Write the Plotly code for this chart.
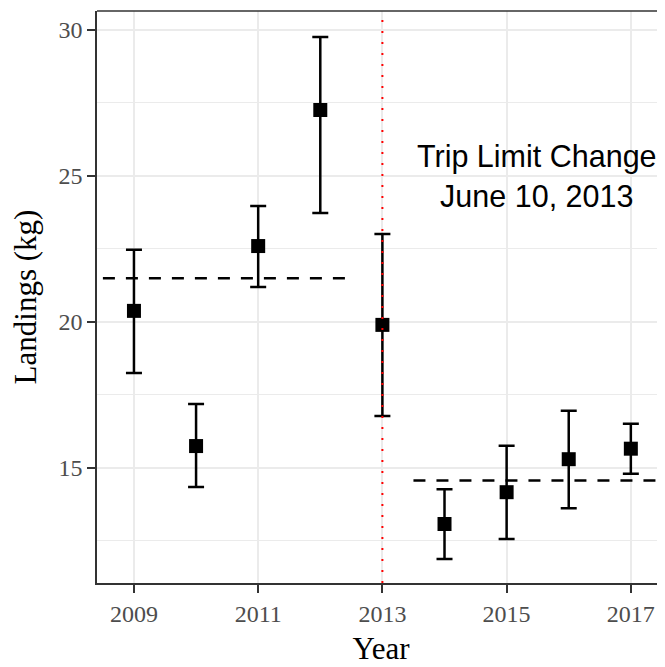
import plotly.graph_objects as go

years = [2009, 2010, 2011, 2012, 2013, 2014, 2015, 2016, 2017]
mean_kg = [20.38, 15.75, 22.60, 27.26, 19.90, 13.08, 14.17, 15.30, 15.66]
lower_kg = [18.25, 14.35, 21.20, 23.73, 16.78, 11.88, 12.57, 13.62, 14.80]
upper_kg = [22.47, 17.19, 23.97, 29.76, 23.01, 14.27, 15.76, 16.96, 16.51]

pre_x = [2008.5, 2012.5]
pre_mean = 21.5
post_x = [2013.5, 2017.6]
post_mean = 14.57
change_year = 2013

tick_years = [2009, 2011, 2013, 2015, 2017]
y_ticks = [15, 20, 25, 30]

err_plus = [u - m for u, m in zip(upper_kg, mean_kg)]
err_minus = [m - l for m, l in zip(mean_kg, lower_kg)]

fig = go.Figure()

fig.add_trace(go.Scatter(
    x=pre_x, y=[pre_mean] * len(pre_x), mode="lines",
    line=dict(color="black", width=2.5, dash="12px,11px"),
    showlegend=False, hoverinfo="skip"))
fig.add_trace(go.Scatter(
    x=post_x, y=[post_mean] * len(post_x), mode="lines",
    line=dict(color="black", width=2.5, dash="12px,11px"),
    showlegend=False, hoverinfo="skip"))

fig.add_trace(go.Scatter(
    x=years, y=mean_kg, mode="markers",
    marker=dict(symbol="square", size=14, color="black"),
    error_y=dict(type="data", symmetric=False, array=err_plus,
                 arrayminus=err_minus, color="black", thickness=2.5, width=8),
    showlegend=False))

fig.add_shape(type="line", xref="x", yref="paper", x0=change_year, x1=change_year,
              y0=0, y1=1, line=dict(color="red", width=2, dash="2px,9px"),
              layer="above")
# top border (right border is outside the visible frame)
fig.add_shape(type="line", xref="paper", yref="paper", x0=0, x1=1, y0=1, y1=1,
              line=dict(color="#333333", width=1.5))

fig.add_annotation(x=2015.49, y=25, xref="x", yref="y",
                   text="Trip Limit Change<br>June 10, 2013", showarrow=False,
                   font=dict(family="Liberation Sans", size=30.5, color="black"),
                   align="center")

serif = "Liberation Serif"
fig.update_layout(
    width=657, height=659,
    margin=dict(l=89, r=0, t=3, b=84, autoexpand=False),
    plot_bgcolor="white", paper_bgcolor="white",
    showlegend=False,
    xaxis=dict(
        range=[2008.405, 2017.55], tickvals=tick_years,
        ticktext=[str(t) for t in tick_years],
        showgrid=True, gridcolor="#ebebeb", gridwidth=2,
        zeroline=False, showline=True, linecolor="#333333", linewidth=1.5,
        ticks="outside", ticklen=8, tickwidth=2, tickcolor="#333333",
        tickfont=dict(family=serif, size=24, color="#4d4d4d"),
        automargin=False,
        title=dict(text="Year", font=dict(family=serif, size=31, color="black"),
                   standoff=12)),
    yaxis=dict(
        range=[11.06, 30.65], tickvals=y_ticks,
        ticktext=[str(t) for t in y_ticks],
        showgrid=True, gridcolor="#ebebeb", gridwidth=2,
        minor=dict(dtick=2.5, tick0=12.5, showgrid=True, gridcolor="#ebebeb",
                   gridwidth=1, ticks=""),
        zeroline=False, showline=True, linecolor="#333333", linewidth=1.5,
        ticks="outside", ticklen=8, tickwidth=2, tickcolor="#333333",
        tickfont=dict(family=serif, size=24, color="#4d4d4d"),
        automargin=False,
        title=dict(text="Landings (kg)",
                   font=dict(family=serif, size=31, color="black"),
                   standoff=15)),
)

fig.write_html("out.html")
